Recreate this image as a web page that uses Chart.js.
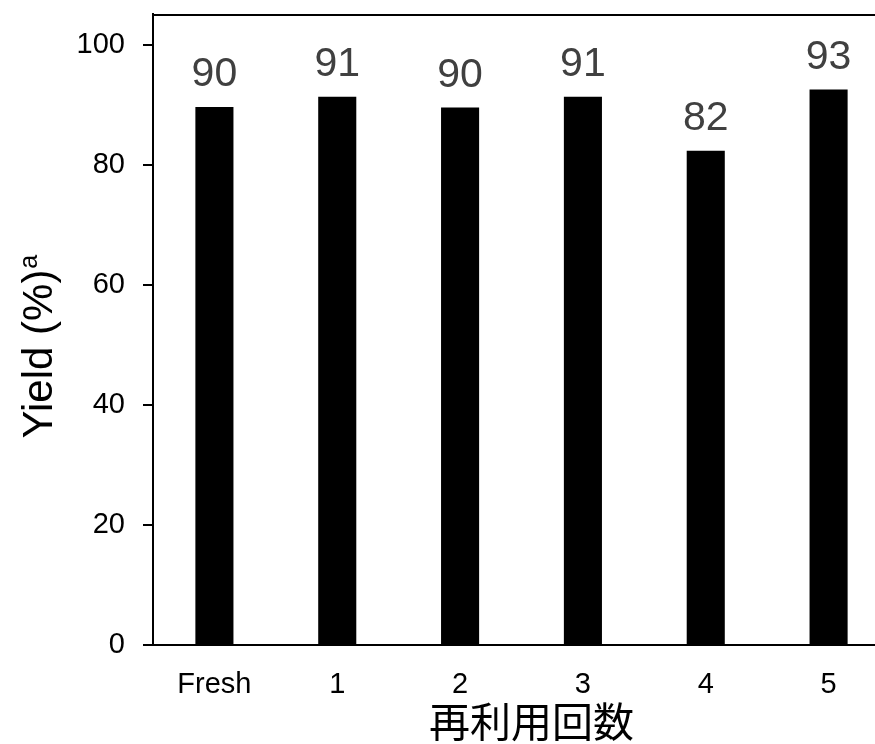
<!DOCTYPE html>
<html>
<head>
<meta charset="utf-8">
<script src="https://cdn.jsdelivr.net/npm/chart.js@4"></script>
<style>
  body { margin: 0; background: #fff; overflow: hidden; }
  #wrap { width: 890px; height: 744px; }
</style>
</head>
<body>
<div id="wrap"><canvas id="yieldChart" width="890" height="744"></canvas></div>
<script>
// values
const categories = ["Fresh", "1", "2", "3", "4", "5"];
const yields = [89.7, 91.4, 89.6, 91.4, 82.4, 92.6];
const yieldLabels = ["90", "91", "90", "91", "82", "93"];
const yTicks = [0, 20, 40, 60, 80, 100];

const latin = "'Liberation Sans', Arial, sans-serif";
const cjk = "'Noto Sans CJK JP', 'Noto Sans CJK SC', sans-serif";

// numbers above bars, axis titles and the top frame line
const extras = {
  id: 'extras',
  afterDatasetsDraw(chart) {
    const c = chart.ctx;
    const area = chart.chartArea;
    const y = chart.scales.y;

    c.save();
    c.fillStyle = '#404040';
    c.font = '41px ' + latin;
    c.textAlign = 'center';
    c.textBaseline = 'alphabetic';
    chart.getDatasetMeta(0).data.forEach((bar, i) => {
      c.fillText(yieldLabels[i], bar.x, bar.y - 21);
    });

    // top line
    c.strokeStyle = '#000';
    c.lineWidth = 2;
    c.beginPath();
    c.moveTo(area.left - 1, area.top + 1);
    c.lineTo(area.right, area.top + 1);
    c.stroke();

    // y title with superscript
    c.fillStyle = '#000';
    const mid = (y.getPixelForValue(0) + y.getPixelForValue(100)) / 2;
    c.translate(52, mid + 2);
    c.rotate(-Math.PI / 2);
    c.font = '42px ' + latin;
    const main = 'Yield (%)';
    const wMain = c.measureText(main).width;
    c.font = '25px ' + latin;
    const wSup = c.measureText('a').width;
    const start = -(wMain + wSup) / 2;
    c.textAlign = 'left';
    c.font = '42px ' + latin;
    c.fillText(main, start, 0);
    c.font = '25px ' + latin;
    c.fillText('a', start + wMain + 1, -15);
    c.restore();

    // x title
    c.save();
    c.fillStyle = '#000';
    c.font = '41px ' + cjk;
    c.textAlign = 'center';
    c.textBaseline = 'alphabetic';
    c.fillText('再利用回数', (area.left + area.right) / 2 + 10, 737);
    c.restore();
  }
};

new Chart(document.getElementById('yieldChart'), {
  type: 'bar',
  data: {
    labels: categories,
    datasets: [{
      data: yields,
      backgroundColor: '#000',
      borderWidth: 0,
      barPercentage: 0.31,
      categoryPercentage: 1
    }]
  },
  options: {
    responsive: false,
    animation: false,
    layout: { padding: { top: 14, left: 0, right: 0, bottom: 0 } },
    plugins: {
      legend: { display: false },
      tooltip: { enabled: false }
    },
    scales: {
      x: {
        grid: { display: false },
        border: { display: true, color: '#000', width: 2 },
        ticks: {
          color: '#000',
          font: { family: latin, size: 29 },
          padding: 15,
          maxRotation: 0
        },
        afterFit(scale) {
          scale.height = 99;
          scale.paddingLeft = 0;
          scale.paddingRight = 0;
        }
      },
      y: {
        min: 0,
        max: 105.2,
        grid: { drawOnChartArea: false, color: '#000', tickLength: 10, lineWidth: 2 },
        border: { display: true, color: '#000', width: 2 },
        ticks: {
          stepSize: 20,
          color: '#000',
          font: { family: latin, size: 29 },
          padding: 18
        },
        afterBuildTicks(scale) {
          scale.ticks = yTicks.map(v => ({ value: v }));
        },
        afterFit(scale) {
          scale.width = 153;
          scale.paddingTop = 0;
          scale.paddingBottom = 0;
        }
      }
    }
  },
  plugins: [extras]
});
</script>
</body>
</html>
